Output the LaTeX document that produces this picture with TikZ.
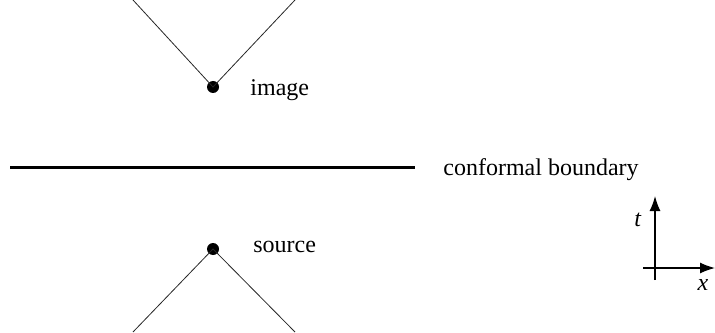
\documentclass[tikz,border=0pt]{standalone}
\usepackage{fontspec}
\setmainfont{Liberation Serif}
\usepackage{tikz}
\usetikzlibrary{positioning, arrows.meta}

\begin{document}
\begin{tikzpicture}[x=0.5pt,y=0.5pt]
\tikzstyle{every node}+=[inner sep=0pt, font=\fontsize{12}{14}\selectfont]
\tikzstyle{dot}=[circle, fill=black, minimum size=6pt]
\tikzstyle{ray}=[black!85, line width=0.4pt]
\tikzstyle{axis}=[black, line width=0.7pt, -{Latex[length=7.5pt,width=5.5pt]}]
\useasboundingbox (0,0) rectangle (715,332);
% image point and its light cone
\node [dot] (img) at (213,245) {};
\coordinate (imgl) at (133,332);
\coordinate (imgr) at (295,332);
\draw [ray] (imgl) -- (img.center) -- (imgr);
\node [anchor=west] (imglbl) at (250,242) {image};
% source point and its light cone
\node [dot] (src) at (213,83) {};
\coordinate (srcl) at (133,0);
\coordinate (srcr) at (295,0);
\draw [ray] (srcl) -- (src.center) -- (srcr);
\node [anchor=west] (srclbl) at (253,85) {source};
% boundary
\coordinate (bl) at (10,165);
\coordinate (br) at (415,165);
\draw [black, line width=1.5pt] (bl) -- (br);
\node [anchor=west] (bdlbl) at (443,162) {conformal boundary};
% axes
\coordinate (tlo) at (655,52);
\coordinate (thi) at (655,136);
\coordinate (xlo) at (643,64);
\coordinate (xhi) at (715,64);
\draw [axis] (tlo) -- (thi);
\draw [axis] (xlo) -- (xhi);
\node (tlbl) at (638,112) {\textit{t}};
\node (xlbl) at (703,47) {\textit{x}};
\end{tikzpicture}
\end{document}
